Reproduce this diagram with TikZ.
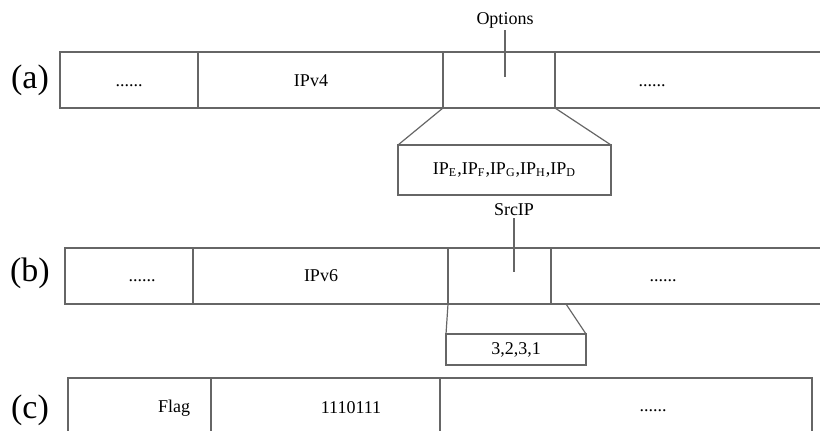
\documentclass[tikz,border=0pt]{standalone}
\usepackage{fontspec}
\setmainfont{Liberation Serif}
\usetikzlibrary{positioning}
\definecolor{linegray}{rgb}{0.40,0.40,0.40}
\tikzset{
  field/.style={
    draw=linegray,
    line width=0.6pt,
    minimum height=28pt,
    inner sep=0pt,
    outer sep=0pt,
    anchor=north west,
    font=\fontsize{9}{11}\selectfont
  },
  zoombox/.style={
    field,
    minimum height=25pt
  },
  tag/.style={
    inner sep=0pt,
    font=\fontsize{17}{19}\selectfont
  },
  txt/.style={
    inner sep=1pt,
    font=\fontsize{9}{11}\selectfont
  },
  lead/.style={
    draw=linegray,
    line width=0.6pt
  }
}

\begin{document}
\begin{tikzpicture}[x=0.5pt,y=-0.5pt,node distance=0pt]
\useasboundingbox (0,0) rectangle (820,431);
% (a) IPv4 header
\node[tag] (la) at (30,80) {(a)};
\node[field, minimum width=69pt] (a1) at (60,52) {};
\node[field, minimum width=122.5pt, right=of a1] (a2) {};
\node[field, minimum width=56pt, right=of a2] (a3) {};
\node[field, minimum width=140pt, right=of a3] (a4) {};
\node[txt] (a1t) at (129,86) {......};
\node[txt] (a2t) at (311,81) {IPv4};
\node[txt] (a4t) at (652,86) {......};
\node[txt] (opt) at (505,20) {Options};
\coordinate (optend) at (505,77);
\draw[lead] (opt) -- (optend);
\node[zoombox, minimum width=106.5pt] (za) at (398,145) {IP\textsubscript{E},IP\textsubscript{F},IP\textsubscript{G},IP\textsubscript{H},IP\textsubscript{D}};
\draw[lead] (a3.south west) -- (za.north west);
\draw[lead] (a3.south east) -- (za.north east);
% (b) IPv6 header
\node[tag] (lb) at (30,273) {(b)};
\node[field, minimum width=64pt] (b1) at (65,248) {};
\node[field, minimum width=127.5pt, right=of b1] (b2) {};
\node[field, minimum width=51.5pt, right=of b2] (b3) {};
\node[field, minimum width=140pt, right=of b3] (b4) {};
\node[txt] (b1t) at (142,281) {......};
\node[txt] (b2t) at (321,276) {IPv6};
\node[txt] (b4t) at (663,281) {......};
\node[txt] (src) at (514,210) {SrcIP};
\coordinate (srcend) at (514,272);
\draw[lead] (src) -- (srcend);
\node[zoombox, minimum width=70pt, minimum height=15.5pt] (zb) at (446,334) {3,2,3,1};
\draw[lead] (b3.south west) -- (zb.north west);
\draw[lead] ([xshift=7.5pt]b3.south east) -- (zb.north east);
% (c) flag field
\node[tag] (lc) at (30,410) {(c)};
\node[field, minimum width=71.5pt] (c1) at (68,378) {};
\node[field, minimum width=114.5pt, right=of c1] (c2) {};
\node[field, minimum width=186pt, right=of c2] (c3) {};
\node[txt] (flag) at (174,408) {Flag};
\node[txt] (bits) at (351,408) {1110111};
\node[txt] (c3t) at (653,411) {......};
\end{tikzpicture}
\end{document}
